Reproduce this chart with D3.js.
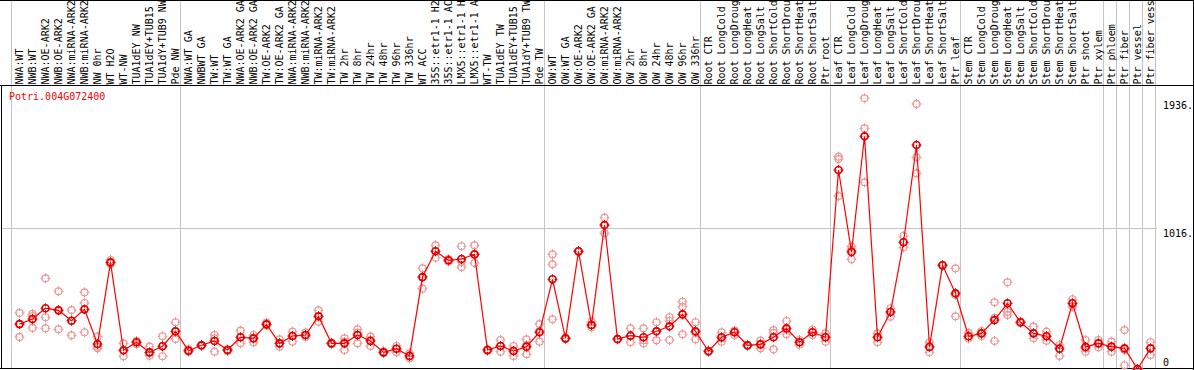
<!DOCTYPE html>
<html>
<head>
<meta charset="utf-8">
<script src="https://cdn.jsdelivr.net/npm/d3@7"></script>
<style>
    body { margin: 0; background: #fff; }
    svg { display: block; }
    text { font-family: "DejaVu Sans Mono", monospace; font-size: 10px; }
</style>
</head>
<body>
<svg id="chart" width="1194" height="370"></svg>
<script>
// Expression profile of one poplar gene across samples

const geneId = 'Potri.004G072400';

// labels as far as they fit above the header line
const samples = [
    'NWA:WT', 'NWB:WT', 'NWA:OE-ARK2', 'NWB:OE-ARK2', 'NWA:miRNA-ARK2', 'NWB:miRNA-ARK2',
    'NW 0hr', 'WT H2O', 'WT-NW', 'TUA1dEY NW', 'TUA1dEY+TUB15', 'TUA1dY+TUB9 NW', 'Pde NW',
    'NWA:WT GA', 'NWBWT GA', 'TW:WT', 'TW:WT GA', 'NWA:OE-ARK2 GA', 'NWB:OE-ARK2 GA',
    'TW:OE-ARK2', 'TW:OE-ARK2 GA', 'NWA:miRNA-ARK2', 'NWB:miRNA-ARK2', 'TW:miRNA-ARK2',
    'TW:miRNA-ARK2', 'TW 2hr', 'TW 8hr', 'TW 24hr', 'TW 48hr', 'TW 96hr', 'TW 336hr', 'WT ACC',
    '35S::etr1-1 H2', '35S::etr1-1 AC', 'LMX5::etr1-1 H', 'LMX5::etr1-1 A', 'WT-TW',
    'TUA1dEY TW', 'TUA1dEY+TUB15', 'TUA1dY+TUB9 TW', 'Pde TW',
    'OW:WT', 'OW:WT GA', 'OW:OE-ARK2', 'OW:OE-ARK2 GA', 'OW:miRNA-ARK2', 'OW:miRNA-ARK2',
    'OW 2hr', 'OW 8hr', 'OW 24hr', 'OW 48hr', 'OW 96hr', 'OW 336hr',
    'Root CTR', 'Root LongCold', 'Root LongDroug', 'Root LongHeat', 'Root LongSalt',
    'Root ShortCold', 'Root ShortDrou', 'Root ShortHeat', 'Root ShortSalt', 'Ptr root',
    'Leaf CTR', 'Leaf LongCold', 'Leaf LongDroug', 'Leaf LongHeat', 'Leaf LongSalt',
    'Leaf ShortCold', 'Leaf ShortDrou', 'Leaf ShortHeat', 'Leaf ShortSalt', 'Ptr leaf',
    'Stem CTR', 'Stem LongCold', 'Stem LongDroug', 'Stem LongHeat', 'Stem LongSalt',
    'Stem ShortCold', 'Stem ShortDrou', 'Stem ShortHeat', 'Stem ShortSalt', 'Ptr shoot',
    'Ptr xylem', 'Ptr phloem', 'Ptr fiber', 'Ptr vessel', 'Ptr fiber vess'
];

// number of samples in each block between grid lines
const groupSizes = [13, 28, 12, 10, 10, 11, 1, 1, 1, 1];

const means = [
    324, 360, 438, 423, 348, 430, 180, 769, 135, 193, 120, 164, 272,
    132, 171, 202, 137, 229, 221, 322, 185, 238, 245, 380, 185, 185, 245, 202, 120, 146,
    94, 663, 849, 784, 793, 827, 137, 166, 130, 161, 265,
    647, 221, 849, 317, 1038, 216, 240, 229, 272, 308, 394, 272,
    128, 229, 265, 171, 178, 229, 293, 193, 265, 229,
    1435, 844, 1678, 229, 411, 914, 1615, 159, 748, 546,
    236, 257, 353, 474, 337, 257, 236, 146, 474, 159, 185,
    161, 149, 0, 149
];

const replicates = [
    [404, 324, 231], [397, 382, 296], [654, 373, 293], [560, 425, 286], [425, 348, 243],
    [553, 476, 265], [233, 161, 149], [786, 769, 757], [185, 135, 92], [202, 193, 180],
    [161, 120, 96], [236, 166, 92], [337, 272, 216],
    [142, 125, 130], [175, 171, 166], [245, 221, 125], [142, 137, 130], [276, 229, 185],
    [245, 224, 193], [334, 322, 317], [214, 185, 161], [269, 238, 197], [262, 245, 233],
    [423, 380, 341], [190, 185, 180], [221, 195, 137], [286, 260, 185], [233, 209, 166],
    [128, 120, 115], [166, 146, 120], [113, 94, 78], [726, 663, 579], [892, 849, 802],
    [793, 784, 775], [885, 771, 735], [892, 827, 764], [142, 137, 130], [209, 166, 125],
    [166, 130, 94], [214, 173, 106], [324, 274, 197],
    [827, 755, 358], [224, 221, 216], [851, 849, 844], [341, 317, 301], [1091, 1038, 978],
    [218, 216, 213], [293, 236, 193], [293, 185, 207], [337, 272, 207], [373, 346, 209],
    [485, 449, 250], [337, 263, 214],
    [133, 128, 123], [265, 224, 197], [276, 265, 245], [175, 171, 166], [204, 178, 149],
    [281, 260, 142], [346, 283, 250], [209, 193, 175], [283, 265, 245], [257, 229, 197],
    [1531, 1514, 1247], [882, 858, 791], [1952, 1735, 1346], [257, 231, 193], [438, 411, 377],
    [959, 914, 877], [1911, 1526, 1411], [193, 159, 120], [750, 748, 743], [726, 534, 380],
    [260, 236, 220], [274, 257, 238], [481, 368, 202], [625, 413, 389], [341, 337, 332],
    [305, 257, 221], [269, 236, 204], [173, 151, 94], [503, 469, 449], [209, 148, 125],
    [209, 185, 156],
    [197, 161, 125], [281, 137, 27], [0, 0, 0], [193, 149, 101]
];

const yTicks = [0, 1016, 1936];
const yTickLabels = ['0', '1016.', '1936.'];

const svg = d3.select('#chart');
const width = 1194;
const height = 370;
const headerY = 85.5;

const x = d3.scaleBand()
    .domain(d3.range(samples.length))
    .range([11, 1155])
    .padding(0);

const y = d3.scaleLinear()
    .domain([0, 1936])
    .range([369, 100.5]);

const px = i => x(i) + 8.5;

svg.append('rect')
    .attr('width', width)
    .attr('height', height)
    .attr('fill', '#fff');

// vertical grid lines at block boundaries
const starts = d3.cumsum([0, ...groupSizes]);
const gridX = Array.from(starts, s => s < samples.length ? x(s) : x.range()[1]);

svg.selectAll('.vgrid')
    .data(gridX)
    .enter()
    .append('line')
    .attr('class', 'vgrid')
    .attr('x1', d => Math.round(d) + 0.5)
    .attr('x2', d => Math.round(d) + 0.5)
    .attr('y1', 0)
    .attr('y2', 369)
    .attr('stroke', '#c4c4c4')
    .attr('stroke-width', 1);

// horizontal grid line at the middle tick
svg.append('line')
    .attr('x1', 1)
    .attr('x2', x.range()[1] + 2)
    .attr('y1', Math.round(y(yTicks[1])) + 0.5)
    .attr('y2', Math.round(y(yTicks[1])) + 0.5)
    .attr('stroke', '#c4c4c4')
    .attr('stroke-width', 1);

// frame
const frame = [
    [0, 0.5, width, 0.5],
    [0, headerY, width, headerY],
    [0, 368.5, width, 368.5],
    [1.5, headerY, 1.5, 369],
    [width - 0.5, 0, width - 0.5, height]
];
svg.selectAll('.frame')
    .data(frame)
    .enter()
    .append('line')
    .attr('x1', d => d[0])
    .attr('y1', d => d[1])
    .attr('x2', d => d[2])
    .attr('y2', d => d[3])
    .attr('stroke', '#000')
    .attr('stroke-width', 1);

// sample labels, rotated
svg.selectAll('.sample')
    .data(samples)
    .enter()
    .append('text')
    .attr('class', 'sample')
    .attr('transform', (d, i) => `translate(${x(i) + 11.5}, 84.5) rotate(-90)`)
    .attr('fill', '#000')
    .text(d => d);

// y labels on the right
svg.selectAll('.ylab')
    .data(yTicks)
    .enter()
    .append('text')
    .attr('class', 'ylab')
    .attr('x', 1163)
    .attr('y', d => Math.min(y(d) + 8.5, 365.5))
    .attr('fill', '#000')
    .text((d, i) => yTickLabels[i]);

// gene id
svg.append('text')
    .attr('x', 9)
    .attr('y', 100)
    .attr('fill', '#ff0000')
    .text(geneId);

function marker(g, cx, cy, color, sw) {
    const r = 3.5;
    g.append('path')
        .attr('d', `M${cx - r - 1.5},${cy}h3M${cx + r - 1.5},${cy}h3M${cx},${cy - r - 1.5}v3M${cx},${cy + r - 1.5}v3`)
        .attr('stroke', color)
        .attr('stroke-width', 1)
        .attr('fill', 'none');
    g.append('circle')
        .attr('cx', cx)
        .attr('cy', cy)
        .attr('r', r)
        .attr('fill', 'none')
        .attr('stroke', color)
        .attr('stroke-width', sw);
}

// replicate values
const repG = svg.append('g');
replicates.forEach((reps, i) => {
    reps.forEach(v => marker(repG, px(i), y(v), '#eb9898', 1.2));
});

// mean line
svg.append('path')
    .datum(means)
    .attr('d', d3.line().x((d, i) => px(i)).y(d => y(d)))
    .attr('fill', 'none')
    .attr('stroke', '#ff0000')
    .attr('stroke-width', 1.2);

const meanG = svg.append('g');
means.forEach((v, i) => marker(meanG, px(i), y(v), '#e00000', 1.7));
</script>
</body>
</html>
